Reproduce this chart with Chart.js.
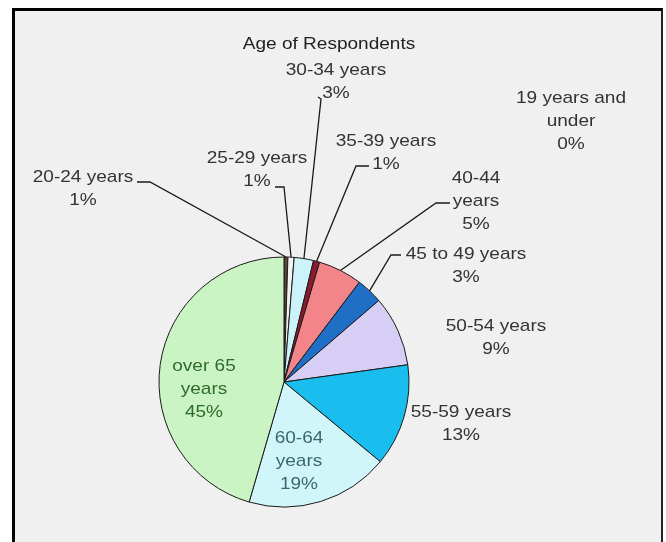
<!DOCTYPE html>
<html>
<head>
<meta charset="utf-8">
<script src="https://cdn.jsdelivr.net/npm/chart.js@4.4.1/dist/chart.umd.min.js"></script>
<style>
  html, body { margin: 0; padding: 0; background: #fff; overflow: hidden; }
  .frame {
    position: absolute; left: 12px; top: 8px; width: 646px; height: 600px;
    border-left: 3px solid #000; border-top: 3px solid #000; border-right: 2px solid #222;
    background: #f0f0f0;
  }
  #chart { position: absolute; left: 0; top: 0; }
</style>
</head>
<body>
<div class="frame"></div>
<canvas id="chart" width="666" height="542"></canvas>
<script>
const chartTitle = "Age of Respondents";
const categories = [
  "19 years and under", "20-24 years", "25-29 years", "30-34 years", "35-39 years",
  "40-44 years", "45 to 49 years", "50-54 years", "55-59 years", "60-64 years", "over 65 years",
];
// slice sizes (percent)
const shares = [0, 0.5, 0.8, 2.5, 0.8, 5.7, 3.4, 9.1, 13.2, 18.5, 45.5];
// percentages as printed on the chart
const shownPercents = ["0%", "1%", "1%", "3%", "1%", "5%", "3%", "9%", "13%", "19%", "45%"];
const sliceColors = [
  "#ffffff", "#5c4636", "#f2f2f2", "#cdf3fa", "#8b1a2e", "#f2848a",
  "#1f6fc6", "#d6cef4", "#19bdee", "#d0f6fa", "#cbf4c4",
];

// where each label sits (centre of text, first line) and its leader elbow
const labelLayout = [
  { x: 571, y: 98, breakAt: 3 },
  { x: 83, y: 177, leader: [[137, 182], [150, 182]] },
  { x: 257, y: 158, leader: [[275, 187], [284, 187]] },
  { x: 336, y: 70, leader: [[318, 97], [321, 99]] },
  { x: 386, y: 141, leader: [[369, 166], [356, 166]] },
  { x: 476, y: 178, breakAt: 1, leader: [[450, 203], [436, 203]] },
  { x: 466, y: 254, leader: [[401, 255], [391, 255]] },
  { x: 496, y: 326 },
  { x: 461, y: 412 },
  { x: 299, y: 438, breakAt: 1, color: "#3b6670" },
  { x: 204, y: 366, breakAt: 2, color: "#2f6a2f" },
];

const FONT = '17px "Liberation Sans", Arial, sans-serif';
const LINE = 23;
const STRETCH = 1.12;

const drawText = (ctx, text, x, y, color) => {
  ctx.save();
  ctx.translate(x, y);
  ctx.scale(STRETCH, 1);
  ctx.fillStyle = color;
  ctx.fillText(text, 0, 0);
  ctx.restore();
};

const labelPlugin = {
  id: "pieLabels",
  afterDraw(chart) {
    const { ctx } = chart;
    const arcs = chart.getDatasetMeta(0).data;
    ctx.save();
    ctx.font = FONT;
    ctx.textAlign = "center";
    ctx.textBaseline = "middle";

    drawText(ctx, chartTitle, 329, 44, "#222");

    labelLayout.forEach((lay, i) => {
      const words = categories[i].split(" ");
      const lines = lay.breakAt
        ? [words.slice(0, lay.breakAt).join(" "), words.slice(lay.breakAt).join(" ")]
        : [categories[i]];
      lines.push(shownPercents[i]);
      lines.forEach((t, k) => drawText(ctx, t, lay.x, lay.y + k * LINE, lay.color || "#333"));

      if (lay.leader) {
        const arc = arcs[i];
        const { x, y, startAngle, endAngle, outerRadius } = arc.getProps(
          ["x", "y", "startAngle", "endAngle", "outerRadius"], true);
        const mid = (startAngle + endAngle) / 2;
        ctx.beginPath();
        ctx.strokeStyle = "#1a1a1a";
        ctx.lineWidth = 1.3;
        ctx.moveTo(lay.leader[0][0], lay.leader[0][1]);
        lay.leader.slice(1).forEach((p) => ctx.lineTo(p[0], p[1]));
        ctx.lineTo(x + Math.cos(mid) * outerRadius, y + Math.sin(mid) * outerRadius);
        ctx.stroke();
      }
    });
    ctx.restore();
  },
};

new Chart(document.getElementById("chart"), {
  type: "pie",
  data: {
    labels: categories,
    datasets: [{
      data: shares,
      backgroundColor: sliceColors,
      borderColor: "#1a1a1a",
      borderWidth: 1,
      radius: 125,
    }],
  },
  options: {
    responsive: false,
    animation: false,
    layout: { padding: { left: 154, right: 252, top: 252, bottom: 30 } },
    plugins: { legend: { display: false }, tooltip: { enabled: false }, title: { display: false } },
  },
  plugins: [labelPlugin],
});
</script>
</body>
</html>
